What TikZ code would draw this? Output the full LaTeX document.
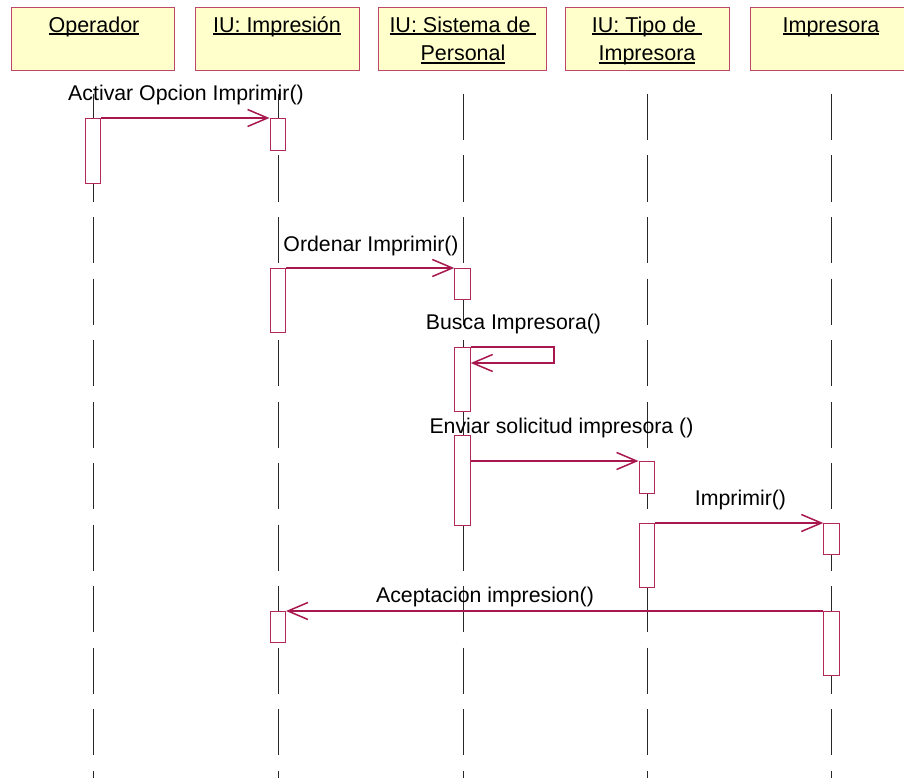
\documentclass[tikz,border=0pt]{standalone}
\usepackage{fontspec}
\setmainfont{Liberation Sans}
\usetikzlibrary{arrows.meta}

\definecolor{hdrfill}{RGB}{255,255,204}
\definecolor{hdrline}{RGB}{190,70,105}
\definecolor{msgcol}{RGB}{168,24,78}
\definecolor{actline}{RGB}{178,40,88}
\definecolor{lifecol}{RGB}{40,40,40}

% underline sitting just below the baseline (trailing spaces included)
\newcommand{\lblul}[1]{\leavevmode\setbox0\hbox{#1}\rlap{\vrule height -1.0pt depth 2.6pt width \wd0}\box0}

\tikzset{
  hdr/.style={draw=hdrline, fill=hdrfill, line width=1pt, minimum height=63pt,
    inner sep=0pt, anchor=north west},
  hdrtext/.style={font=\fontsize{21.5}{26}\selectfont, anchor=base, inner sep=0pt},
  msgtext/.style={font=\fontsize{21.3}{25}\selectfont, anchor=base, inner sep=0pt},
  life/.style={draw=lifecol, line width=1pt, dash pattern=on 46pt off 15.5pt},
  act/.style={draw=actline, fill=white, line width=1pt, minimum width=15.5pt,
    inner sep=0pt, anchor=north},
  msg/.style={draw=msgcol, line width=1.1pt,
    -{Straight Barb[length=20pt,width=17pt,line width=1.5pt]}},
}

\begin{document}
\begin{tikzpicture}[x=1pt, y=-1pt]
  \useasboundingbox (0,0) rectangle (904,778);
  \clip (0,0) rectangle (904,778);
  \fill[white] (0,0) rectangle (904,778);

  % object headers
  \node[hdr, minimum width=163pt] (hOp)  at (11,7)  {};
  \node[hdr, minimum width=164pt] (hImp) at (195,7) {};
  \node[hdr, minimum width=168pt] (hSis) at (378,7) {};
  \node[hdr, minimum width=164pt] (hTip) at (565,7) {};
  \node[hdr, minimum width=163pt] (hPrn) at (750,7) {};

  \node[hdrtext] (tOp)   at (94,32.5)   {\lblul{Operador}};
  \node[hdrtext] (tImp)  at (277,32.5)  {\lblul{IU: Impresión}};
  \node[hdrtext] (tSis1) at (463,32.5)  {\lblul{IU: Sistema de\ }};
  \node[hdrtext] (tSis2) at (463,61)    {\lblul{Personal}};
  \node[hdrtext] (tTip1) at (647,32.5)  {\lblul{IU: Tipo de\ }};
  \node[hdrtext] (tTip2) at (647,61)    {\lblul{Impresora}};
  \node[hdrtext] (tPrn)  at (831,32.5)  {\lblul{Impresora}};

  % lifelines
  \coordinate (lOpT)  at (93,94);  \coordinate (lOpB)  at (93,778);
  \coordinate (lImpT) at (278,94); \coordinate (lImpB) at (278,778);
  \coordinate (lSisT) at (463,94); \coordinate (lSisB) at (463,778);
  \coordinate (lTipT) at (647,94); \coordinate (lTipB) at (647,778);
  \coordinate (lPrnT) at (831,94); \coordinate (lPrnB) at (831,778);
  \draw[life] (lOpT) -- (lOpB);
  \draw[life] (lImpT) -- (lImpB);
  \draw[life] (lSisT) -- (lSisB);
  \draw[life] (lTipT) -- (lTipB);
  \draw[life] (lPrnT) -- (lPrnB);

  % activation bars
  \node[act, minimum height=65pt] (aOp)   at (93,118)    {};
  \node[act, minimum height=32pt] (aImp1) at (277.75,118) {};
  \node[act, minimum height=64pt] (aImp2) at (277.75,268) {};
  \node[act, minimum height=31pt] (aImp3) at (277.75,611) {};
  \node[act, minimum height=31pt] (aSis1) at (462.5,268) {};
  \node[act, minimum height=64pt] (aSis2) at (462.5,347) {};
  \node[act, minimum height=90pt] (aSis3) at (462.5,435) {};
  \node[act, minimum height=32pt] (aTip1) at (646.75,461) {};
  \node[act, minimum height=64pt] (aTip2) at (646.75,523) {};
  \node[act, minimum height=31pt] (aPrn1) at (831.5,523) {};
  \node[act, minimum height=64pt] (aPrn2) at (831.5,611) {};

  % messages
  \draw[msg] (aOp.north east) -- (aImp1.north west);
  \draw[msg] (aImp2.north east) -- (aSis1.north west);
  \coordinate (selfA) at (554,347);
  \coordinate (selfB) at (554,363);
  \draw[msg] (aSis2.north east) -- (selfA) -- (selfB) -- (aSis2.east |- selfB);
  \draw[msg] (aSis3.east |- aTip1.north west) -- (aTip1.north west);
  \draw[msg] (aTip2.north east) -- (aPrn1.north west);
  \draw[msg] (aPrn2.north west) -- (aImp3.north east);

  % message labels
  \node[msgtext] (m1) at (186,101)   {Activar Opcion Imprimir()};
  \node[msgtext] (m2) at (371,251)   {Ordenar Imprimir()};
  \node[msgtext] (m3) at (513.5,329) {Busca Impresora()};
  \node[msgtext] (m4) at (561.5,433) {Enviar solicitud impresora ()};
  \node[msgtext] (m5) at (740.5,505) {Imprimir()};
  \node[msgtext] (m6) at (485,602)   {Aceptacion impresion()};
\end{tikzpicture}
\end{document}
